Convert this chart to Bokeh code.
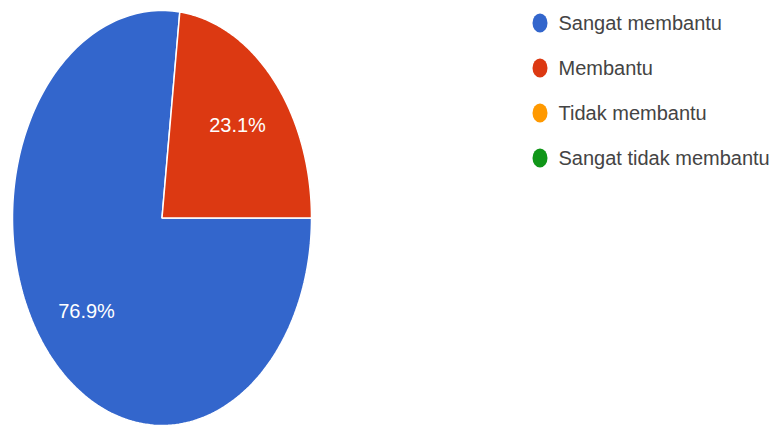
import numpy as np
from bokeh.plotting import figure
from bokeh.models import Range1d
from bokeh.core.properties import value
from bokeh.embed import file_html
from bokeh.resources import INLINE

# ---- data ----
categories = ["Sangat membantu", "Membantu", "Tidak membantu", "Sangat tidak membantu"]
percent = [76.9, 23.1, 0.0, 0.0]
colors = ["#3366cc", "#dc3912", "#ff9900", "#109618"]

# ---- layout ----
W, H = 775, 427
p = figure(width=W, height=H, x_range=Range1d(0, W), y_range=Range1d(H, 0),
           output_backend="svg", toolbar_location=None, min_border=0)
p.axis.visible = False
p.grid.visible = False
p.outline_line_color = None
p.background_fill_color = "white"

cx, cy, rx, ry = 161.5, 217.5, 149.5, 207.5
FONT = "Liberation Sans"

total = sum(percent)
xs, ys, fills = [], [], []
lx, ly, lt = [], [], []
start = 0.0
for cat, v, c in zip(categories, percent, colors):
    if v <= 0:
        continue
    span = v / total * 2 * np.pi
    t = np.linspace(start, start - span, 200)
    xs.append([cx] + list(cx + rx * np.cos(t)))
    ys.append([cy] + list(cy - ry * np.sin(t)))
    fills.append(c)
    mid = start - span / 2
    lx.append(cx + 0.675 * rx * np.cos(mid))
    ly.append(cy - 0.675 * ry * np.sin(mid))
    lt.append(f"{v:.1f}%")
    start -= span

p.patches(xs=xs, ys=ys, fill_color=fills, line_color="white", line_width=1.5)
p.text(x=lx, y=ly, text=lt, text_color="white", text_font=value(FONT),
       text_font_size="20px", text_align="center", text_baseline="middle")

# ---- legend ----
leg_y = [22.5 + 45 * i for i in range(len(categories))]
p.ellipse(x=[539.5] * len(categories), y=leg_y, width=15, height=19,
          fill_color=colors, line_color=None)
p.text(x=[558] * len(categories), y=leg_y, text=categories, text_color="#444444",
       text_font=value(FONT), text_font_size="20px", text_align="left",
       text_baseline="middle")

open("out.html", "w").write(file_html(p, INLINE))
